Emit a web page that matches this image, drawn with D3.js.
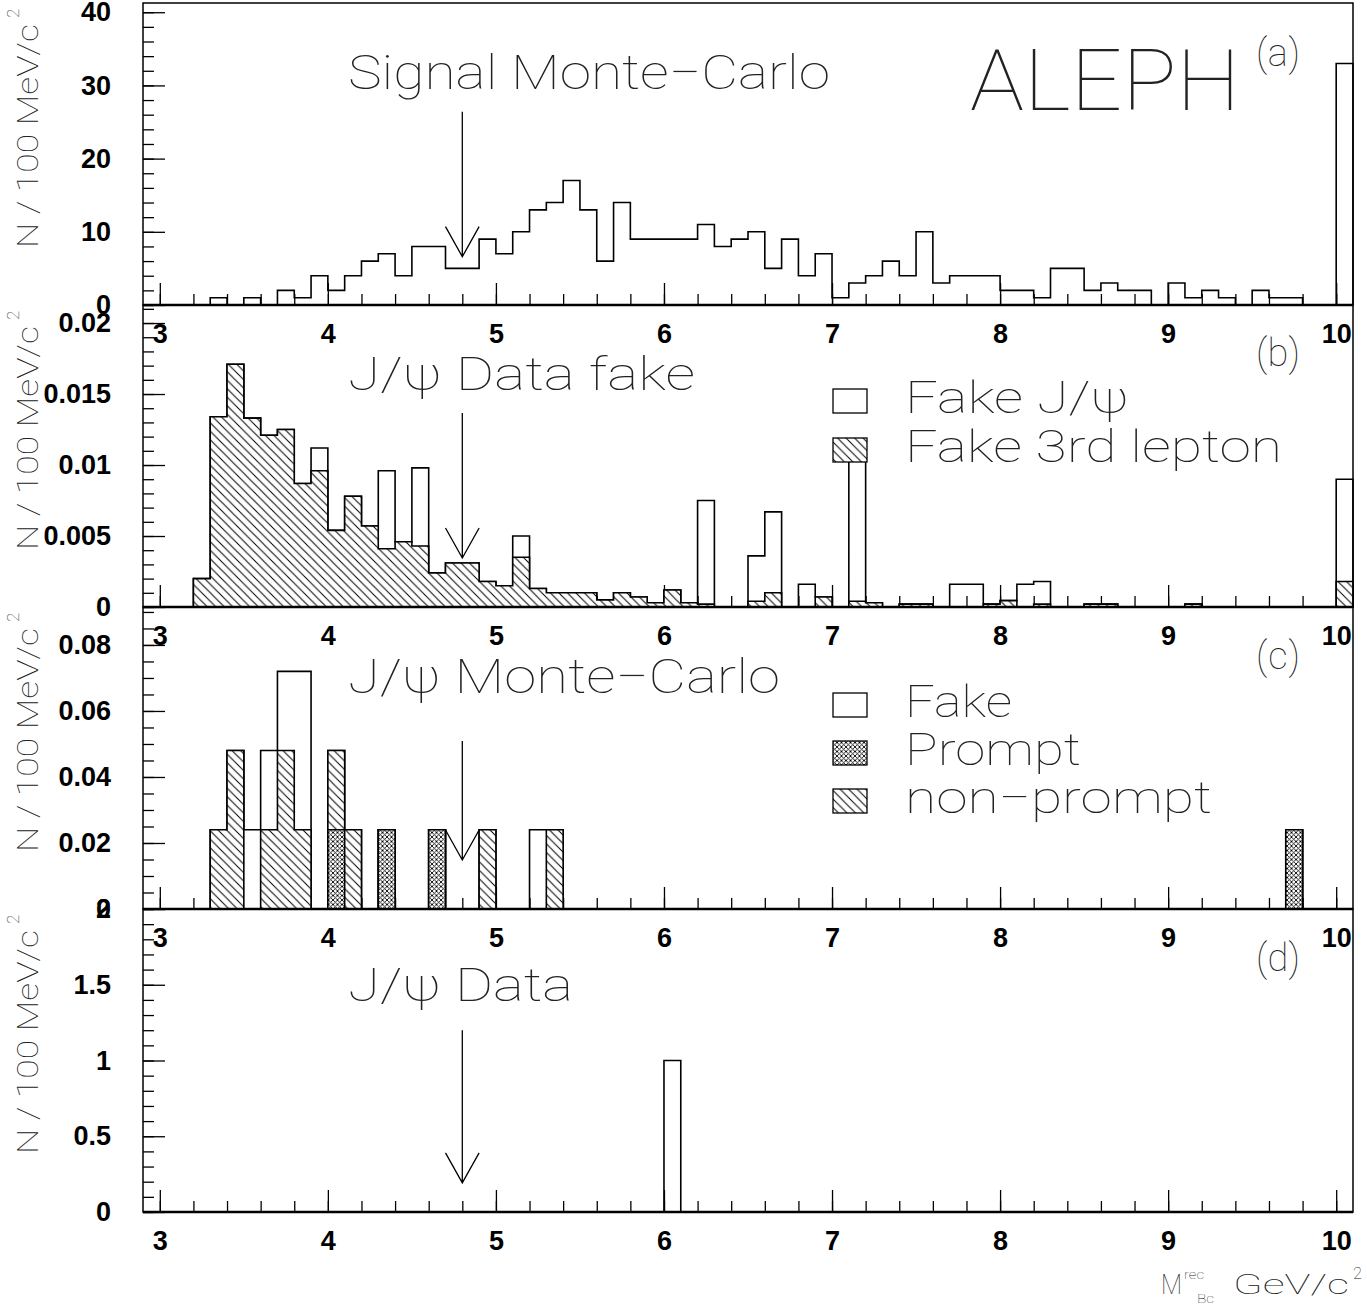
<!DOCTYPE html>
<html><head><meta charset="utf-8">
<script src="https://cdn.jsdelivr.net/npm/d3@7"></script>
<style>
body{margin:0;background:#fff}
.thin{font-family:Roboto,'Open Sans',sans-serif;font-weight:100;fill:#222}
.num{font-family:'Liberation Sans',Arial,sans-serif;font-weight:bold;font-size:27px;fill:#000}
</style></head><body>
<script>
// BINS: LOWER EDGES 3.0 ... 10.0, WIDTH 0.1 (71 BINS)
var binStart = 3.0, binWidth = 0.1, nBins = 71

// (a) SIGNAL MONTE-CARLO
var signalMC = [0,0,0,1,0,1,0,2,1,4, 2,4,6,7,4,8,8,5,5,9, 7,10,13,14,17,13,6,14,9,9,
    9,9,11,8,9,10,5,9,4,7, 1,3,4,6,4,10,3,4,4,4, 2,2,1,5,5,2,3,2,2,0, 3,1,2,1,0,2,1,1,0,0, 33]

// (b) J/PSI DATA FAKE : TOTAL (OPEN) AND FAKE 3RD LEPTON (HATCHED)
var fakeTotal = [0,0,0.0020,0.0134,0.0171,0.0133,0.0121,0.0125,0.0087,0.0112,
    0.0054,0.0078,0.0057,0.0096,0.0046,0.0098,0.0024,0.0031,0.0031,0.0018,
    0.0015,0.0050,0.0013,0.0010,0.0010,0.0010,0.0005,0.0010,0.0007,0.0003,
    0.0012,0.0003,0.0075,0,0,0.0036,0.0067,0,0.0016,0.0007,
    0,0.0103,0.0003,0,0.0002,0.0002,0,0.0016,0.0016,0.0002,
    0.00045,0.0016,0.0018,0,0,0.0002,0.0002,0,0,0,
    0,0.0002,0,0,0,0,0,0,0,0, 0.0090]
var fake3rdLepton = [0,0,0.0020,0.0134,0.0171,0.0133,0.0121,0.0125,0.0087,0.0096,
    0.0054,0.0078,0.0057,0.0041,0.0046,0.0043,0.0024,0.0031,0.0031,0.0018,
    0.0015,0.0035,0.0013,0.0010,0.0010,0.0010,0.0005,0.0010,0.0007,0.0003,
    0.0012,0.0003,0.0002,0,0,0.0004,0.0010,0,0,0.0007,
    0,0.0004,0.0003,0,0.0002,0.0002,0,0,0,0.0002,
    0.00045,0,0.0002,0,0,0.0002,0.0002,0,0,0,
    0,0.0002,0,0,0,0,0,0,0,0, 0.0018]

// (c) J/PSI MONTE-CARLO (SPARSE: BIN LOWER EDGE, CONTENT)
var mcPromptBins = [4.0, 4.3, 4.6, 9.7]
var mcPromptVals = [0.024, 0.024, 0.024, 0.024]
var mcNonPromptBins = [3.3, 3.4, 3.6, 3.7, 3.8, 4.0, 4.1, 4.9, 5.3]
var mcNonPromptVals = [0.024, 0.048, 0.024, 0.048, 0.024, 0.024, 0.024, 0.024, 0.024]
var mcFakeBins = [3.5, 3.6, 3.7, 3.8, 5.2]
var mcFakeVals = [0.024, 0.024, 0.024, 0.048, 0.024]

// (d) J/PSI DATA
var dataBins = [6.0]
var dataVals = [1]

var xTicks = [3,4,5,6,7,8,9,10]

// HELPERS
function expand(bins, vals){
    var out = d3.range(nBins).map(function(){return 0})
    bins.forEach(function(b,i){ out[Math.round((b-binStart)/binWidth)] += vals[i] })
    return out
}
function addArr(a,b){ return a.map(function(v,i){return v+b[i]}) }
function stepPts(vals){
    var pts = vals.map(function(v,i){return {x: binStart+i*binWidth, v:v}})
    pts.push({x: binStart+nBins*binWidth, v: vals[nBins-1]})
    return pts
}

var W = 1367, H = 1306
var svg = d3.select('body').append('svg').attr('width',W).attr('height',H)

// PATTERNS
var defs = svg.append('defs')
var hp = defs.append('pattern').attr('id','hatch').attr('patternUnits','userSpaceOnUse')
    .attr('width',8.5).attr('height',8.5)
hp.append('rect').attr('width',8.5).attr('height',8.5).attr('fill','#fff')
hp.append('path').attr('d','M-1,-1L9.5,9.5M-1,7.5L1,9.5M7.5,-1L9.5,1').attr('stroke','#000').attr('stroke-width',1)
var cp = defs.append('pattern').attr('id','cross').attr('patternUnits','userSpaceOnUse')
    .attr('width',4.5).attr('height',4.5)
cp.append('rect').attr('width',4.5).attr('height',4.5).attr('fill','#fff')
cp.append('path').attr('d','M-1,-1L5.5,5.5M-1,3.5L1,5.5M3.5,-1L5.5,1M-1,5.5L5.5,-1M-1,1L1,-1M3.5,5.5L5.5,3.5')
    .attr('stroke','#000').attr('stroke-width',0.9)

var x = d3.scaleLinear().domain([2.9,10.1]).range([143,1353])

var panels = [
    {top:3, bottom:305, ymax:41.26, major:10, minor:2, dec:0, tag:'(a)', tagY:66},
    {top:305, bottom:607, ymax:0.02127, major:0.005, minor:0.001, dec:3, tag:'(b)', tagY:366},
    {top:607, bottom:909, ymax:0.0915, major:0.02, minor:0.005, dec:2, tag:'(c)', tagY:669},
    {top:909, bottom:1212, ymax:2.0, major:0.5, minor:0.1, dec:1, tag:'(d)', tagY:971}
]
// ARROW AT 4.8 : [TOP, TIP] IN DATA UNITS
var arrowY = [[26.4, 6.6], [0.01366, 0.00345], [0.0509, 0.01485], [1.199, 0.192]]

panels.forEach(function(p, i){
    p.y = d3.scaleLinear().domain([0,p.ymax]).range([p.bottom,p.top])
    var g = svg.append('g')

    // Y TICKS
    var nMaj = Math.floor(p.ymax/p.major+1e-9)
    var majors = d3.range(nMaj+1).map(function(k){return +(k*p.major).toFixed(6)})
    var nMin = Math.floor(p.ymax/p.minor+1e-9)
    var minors = d3.range(nMin+1).map(function(k){return +(k*p.minor).toFixed(6)})
    g.append('g').attr('transform','translate(143,0)')
        .call(d3.axisLeft(p.y).tickValues(minors).tickSize(-11).tickFormat(''))
    var yMajor = g.append('g').attr('transform','translate(143,0)')
        .call(d3.axisLeft(p.y).tickValues(majors).tickSize(-22).tickPadding(32)
            .tickFormat(function(d){return String(+d.toFixed(p.dec))}))
    yMajor.selectAll('text').attr('class','num').attr('font-size',null).attr('font-family',null)

    // X TICKS
    var xMin = d3.range(0,36).map(function(k){return +(3+k*0.2).toFixed(2)})
    g.append('g').attr('transform','translate(0,'+p.bottom+')')
        .call(d3.axisBottom(x).tickValues(xMin).tickSize(-11).tickFormat(''))
    var xMaj = g.append('g').attr('transform','translate(0,'+p.bottom+')')
        .call(d3.axisBottom(x).tickValues(xTicks).tickSize(-22).tickPadding(19).tickFormat(d3.format('d')))
    xMaj.selectAll('text').attr('class','num').attr('font-size',null).attr('font-family',null)

    g.selectAll('.domain').remove()
    g.selectAll('.tick line').attr('stroke','#000').attr('stroke-width',1.3)

    // Y TITLE
    g.append('text').attr('class','thin').attr('font-size',30)
        .attr('transform','translate(38,'+(p.top+245)+') rotate(-90)')
        .attr('textLength',224).attr('lengthAdjust','spacingAndGlyphs')
        .text('N / 100 MeV/c')
    g.append('text').attr('class','thin').attr('font-size',17)
        .attr('transform','translate(19,'+(p.top+15)+') rotate(-90)')
        .text('2')

    // PANEL TAG
    svg.append('text').attr('class','thin').attr('font-size',38)
        .attr('x',1256).attr('y',p.tagY).attr('textLength',44).text(p.tag)
})

var line = function(p){
    return d3.line().x(function(d){return x(d.x)}).y(function(d){return p.y(d.v)}).curve(d3.curveStepAfter)
}
var area = function(p){
    return d3.area().x(function(d){return x(d.x)}).y0(p.y(0)).y1(function(d){return p.y(d.v)}).curve(d3.curveStepAfter)
}
function outline(p, vals){
    var pts = [{x:binStart, v:0}].concat(stepPts(vals))
    pts.push({x: binStart+nBins*binWidth, v:0})
    svg.append('path').attr('d', line(p)(pts)).attr('fill','none')
        .attr('stroke','#000').attr('stroke-width',1.6)
}
function filled(p, vals, pat){
    svg.append('path').attr('d', area(p)(stepPts(vals))).attr('fill','url(#'+pat+')')
        .attr('stroke','#000').attr('stroke-width',1.6)
}

// (a)
outline(panels[0], signalMC)
// (b)
outline(panels[1], fakeTotal)
filled(panels[1], fake3rdLepton, 'hatch')
// (c)
var prompt = expand(mcPromptBins, mcPromptVals)
var promptNon = addArr(prompt, expand(mcNonPromptBins, mcNonPromptVals))
var mcAll = addArr(promptNon, expand(mcFakeBins, mcFakeVals))
outline(panels[2], mcAll)
filled(panels[2], promptNon, 'hatch')
filled(panels[2], prompt, 'cross')
// (d)
outline(panels[3], expand(dataBins, dataVals))

// FRAMES + BASELINES
panels.forEach(function(p){
    svg.append('rect').attr('x',143).attr('y',p.top).attr('width',1210).attr('height',p.bottom-p.top)
        .attr('fill','none').attr('stroke','#000').attr('stroke-width',1.5)
    svg.append('line').attr('x1',143).attr('x2',1353).attr('y1',p.bottom).attr('y2',p.bottom)
        .attr('stroke','#000').attr('stroke-width',2.5)
})

// ARROWS
panels.forEach(function(p,i){
    var ax = x(4.8), yt = p.y(arrowY[i][0]), yb = p.y(arrowY[i][1])
    svg.append('path').attr('d','M'+ax+','+yt+'V'+yb+'M'+(ax-16.8)+','+(yb-30)+'L'+ax+','+yb+'L'+(ax+16.8)+','+(yb-30))
        .attr('fill','none').attr('stroke','#000').attr('stroke-width',1.3)
})

// TITLES
function label(t, xx, yy, size, len){
    return svg.append('text').attr('class','thin').attr('font-size',size)
        .attr('x',xx).attr('y',yy).attr('textLength',len).attr('lengthAdjust','spacingAndGlyphs').text(t)
}
label('Signal Monte\u2212Carlo', 348, 89, 48, 482)
label('ALEPH', 970, 110, 85, 270)
label('J/\u03c8 Data fake', 348, 390, 46, 347)
label('J/\u03c8 Monte\u2212Carlo', 348, 693, 48, 432)
label('J/\u03c8 Data', 348, 1001, 46, 225)

// LEGENDS
var legB = [{t:'Fake J/\u03c8', f:'#fff', y:389, len:224}, {t:'Fake 3rd lepton', f:'url(#hatch)', y:438, len:377}]
var legC = [{t:'Fake', f:'#fff', y:693, len:107}, {t:'Prompt', f:'url(#cross)', y:741, len:176},
    {t:'non\u2212prompt', f:'url(#hatch)', y:789, len:307}]
legB.concat(legC).forEach(function(d){
    svg.append('rect').attr('x',833).attr('y',d.y).attr('width',34).attr('height',24)
        .attr('fill',d.f).attr('stroke','#000').attr('stroke-width',1.3)
    label(d.t, 905, d.y+24, 45, d.len)
})

// X TITLE
label('M', 1161, 1294, 27, 21)
label('rec', 1184, 1279, 13, 20)
label('Bc', 1197, 1303, 13, 17)
label('GeV/c', 1233, 1294, 27, 116)
label('2', 1353, 1279, 16, 9)
</script>
</body></html>
